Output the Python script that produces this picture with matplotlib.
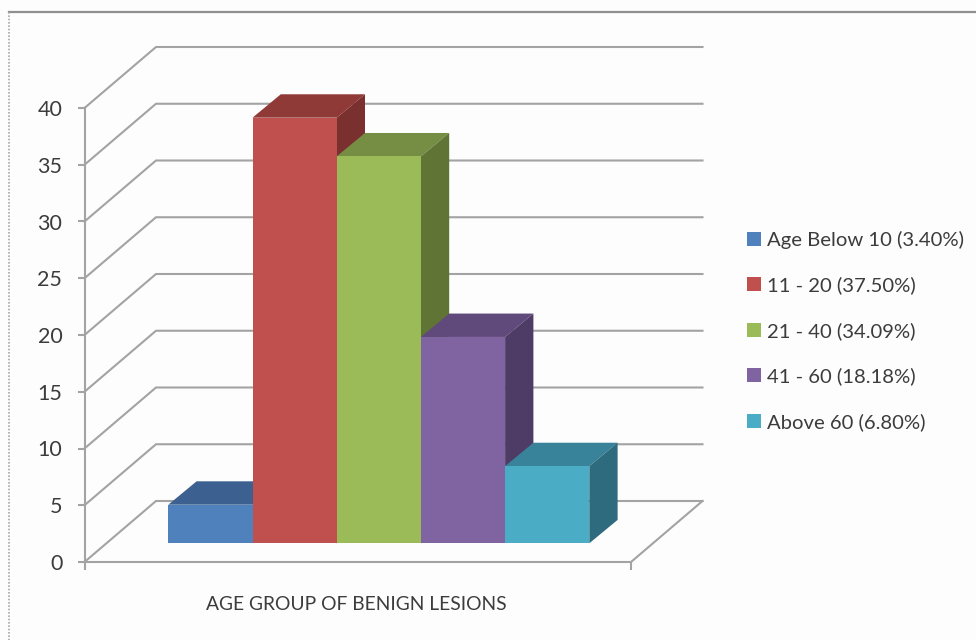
import matplotlib
matplotlib.use("Agg")
import matplotlib.pyplot as plt
from matplotlib.lines import Line2D
from matplotlib.patches import Patch, Polygon

# Benign lesion share by age group (percent)
age_groups = ["Age Below 10 (3.40%)", "11 - 20 (37.50%)", "21 - 40 (34.09%)",
              "41 - 60 (18.18%)", "Above 60 (6.80%)"]
percentages = [3.40, 37.50, 34.09, 18.18, 6.80]
y_ticks = [0, 5, 10, 15, 20, 25, 30, 35, 40]
x_title = "AGE GROUP OF BENIGN LESIONS"

front_colors = ["#4f81bd", "#c0504d", "#9bbb59", "#8064a2", "#4bacc6"]
top_colors = ["#3c6090", "#903a38", "#758e43", "#604a7b", "#38829a"]
side_colors = ["#2f4d73", "#7a302e", "#5f7435", "#4f3c66", "#2e6b7e"]

GRID = "#a3a3a3"
TEXT = "#3c3c3c"
W, H = 976, 640
plt.rcParams["font.family"] = ["Lato", "DejaVu Sans"]

fig = plt.figure(figsize=(W / 100, H / 100), dpi=100, facecolor="#fdfdfd")

# Axes rectangle spans the floor's front edge and the 0-40 value range
left, right, bottom, top = 84.5, 631, 562, 108
ax = fig.add_axes([left / W, 1 - bottom / H, (right - left) / W, (bottom - top) / H])
ax.patch.set_alpha(0)
bar_px = 84.2
x_end = (right - left) / bar_px
ax.set_xlim(0, x_end)
ax.set_ylim(0, 40)
px_y = (bottom - top) / 40

# Oblique depth of the wall and of each column, in data units
wall_dx, wall_dy = 71.5 / bar_px, 61 / px_y
col_dx, col_dy = 28.3 / bar_px, 23.4 / px_y
bar_start = (168.3 - left) / bar_px
bar_base = (bottom - 543.3) / px_y

# Back wall gridlines with their receding segments
for v in y_ticks:
    ax.plot([0, wall_dx, x_end + wall_dx], [v, v + wall_dy, v + wall_dy],
            color=GRID, lw=1.5, clip_on=False, zorder=1, solid_joinstyle="miter")
ax.plot([x_end, x_end + wall_dx], [0, wall_dy], color=GRID, lw=1.5, clip_on=False, zorder=1)

# Columns, left to right so each one overlaps its neighbour
for i, (val, fc, tc, sc) in enumerate(zip(percentages, front_colors, top_colors, side_colors)):
    x0 = bar_start + i
    x1 = x0 + 1
    y0 = bar_base
    y1 = bar_base + val
    z = 2 + i
    ax.add_patch(Polygon([(x0, y1), (x1, y1), (x1 + col_dx, y1 + col_dy), (x0 + col_dx, y1 + col_dy)],
                         closed=True, fc=tc, ec="none", clip_on=False, zorder=z))
    ax.add_patch(Polygon([(x1, y0), (x1 + col_dx, y0 + col_dy), (x1 + col_dx, y1 + col_dy), (x1, y1)],
                         closed=True, fc=sc, ec="none", clip_on=False, zorder=z))
    ax.bar(x0, val, width=1, bottom=y0, align="edge", color=fc, clip_on=False, zorder=z + 0.5)

for s in ("top", "right"):
    ax.spines[s].set_visible(False)
for s in ("left", "bottom"):
    ax.spines[s].set_color(GRID)
    ax.spines[s].set_linewidth(1.5)

ax.set_yticks(y_ticks)
ax.set_xticks([0, x_end])
ax.set_xticklabels([])
ax.tick_params(axis="y", length=5, width=1.5, color=GRID, labelsize=15.5, labelcolor=TEXT, pad=11)
ax.tick_params(axis="x", length=5.8, width=1.5, color=GRID)
ax.set_xlabel(x_title, fontsize=13.9, color=TEXT, labelpad=15, x=0.497)

handles = [Patch(fc=c, ec="none") for c in front_colors]
fig.legend(handles, age_groups, loc="upper left", bbox_to_anchor=(739.2 / W, 1 - 222.6 / H),
           frameon=False, fontsize=14.6, labelcolor=TEXT, handlelength=0.685, handleheight=0.685,
           handletextpad=0.27, labelspacing=1.365, borderpad=0.4, borderaxespad=0)

# Chart area border: top rule and dotted left edge
fig.add_artist(Line2D([9 / W, 1], [1 - 12 / H] * 2, color="#8f8f8f", lw=1.6))
fig.add_artist(Line2D([9 / W, 9 / W], [1 - 12 / H, 0], color="#a8a8a8", lw=1.2, ls=(0, (1, 1))))

fig.savefig("out.png", dpi=100, facecolor=fig.get_facecolor())
